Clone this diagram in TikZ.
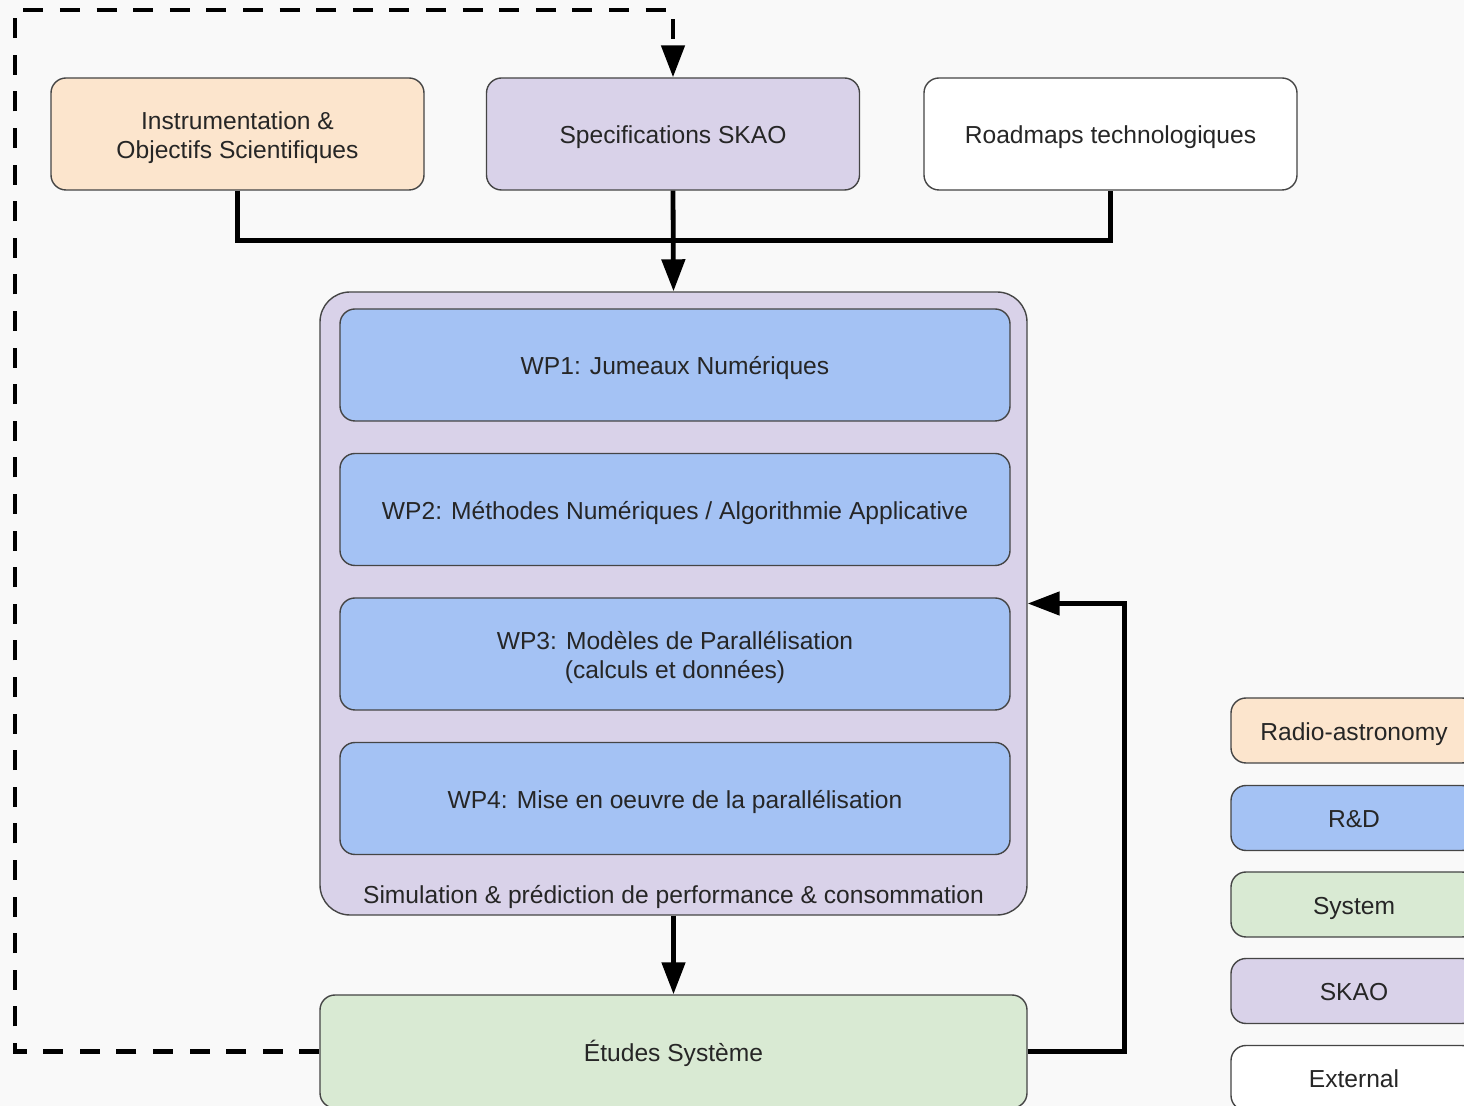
\documentclass[tikz,border=0pt]{standalone}
\usepackage{fontspec}
\setmainfont{Liberation Sans}
\usetikzlibrary{arrows.meta,positioning}
\definecolor{radiofill}{HTML}{FCE5CD}
\definecolor{skaofill}{HTML}{D9D2E9}
\definecolor{rdfill}{HTML}{A4C2F4}
\definecolor{sysfill}{HTML}{D9EAD3}
\definecolor{pagebg}{HTML}{F9F9F9}
\definecolor{edgegray}{HTML}{454545}

\begin{document}
\begin{tikzpicture}[x=0.5pt, y=-0.5pt,
	box/.style={draw=edgegray, line width=0.7pt, rounded corners=7.5pt, inner sep=0pt, align=center, text=black!85, text height=10pt, text depth=0pt, font=\fontsize{12.3}{14.6}\selectfont},
	twoline/.style={text height=25pt},
	topbox/.style={box, minimum width=186.5pt, minimum height=56pt},
	wpbox/.style={box, fill=rdfill, minimum width=335pt, minimum height=56pt},
	keybox/.style={box, minimum width=123pt, minimum height=32.5pt},
	link/.style={line width=2.4pt, -{Triangle[length=16pt, width=11.5pt]}},
	plain/.style={line width=2.4pt},
	dashlink/.style={line width=2.4pt, dash pattern=on 10pt off 8.3pt, -{Triangle[length=16pt, width=11.5pt]}}]
			%%%%% START %%%%%
			
			\fill[pagebg] (0, 0) rectangle (1464, 1106);
			\useasboundingbox (0, 0) rectangle (1464, 1106);
			
			\node[topbox, twoline, fill=radiofill] (instr) at (237.5, 134) {Instrumentation \&\\Objectifs Scientifiques};
			\node[topbox, fill=skaofill] (specs) at (673, 134) {Specifications SKAO};
			\node[topbox, fill=white] (roadmaps) at (1110.5, 134) {Roadmaps technologiques};
			
			\node[box, fill=skaofill, rounded corners=15pt, minimum width=353.5pt, minimum height=311.5pt] (sim) at (673.5, 603.5) {};
			\node[wpbox] (wp1) at (675, 365) {WP1: Jumeaux Numériques};
			\node[wpbox] (wp2) at (675, 509.5) {WP2: Méthodes Numériques / Algorithmie Applicative};
			\node[wpbox, twoline] (wp3) at (675, 654) {WP3: Modèles de Parallélisation\\(calculs et données)};
			\node[wpbox] (wp4) at (675, 798.5) {WP4: Mise en oeuvre de la parallélisation};
			\node[text=black!85, font=\fontsize{12.3}{14.6}\selectfont] (simlabel) at (673.5, 897) {Simulation \& prédiction de performance \& consommation};
			
			\node[box, fill=sysfill, minimum width=353.5pt, minimum height=56.5pt] (etudes) at (673.5, 1051.5) {Études Système};
			
			\node[keybox, fill=radiofill] (keyradio) at (1354, 730.5) {Radio-astronomy};
			\node[keybox, fill=rdfill] (keyrd) at (1354, 818) {R\&D};
			\node[keybox, fill=sysfill] (keysys) at (1354, 904.5) {System};
			\node[keybox, fill=skaofill] (keyskao) at (1354, 991) {SKAO};
			\node[keybox, fill=white] (keyext) at (1354, 1078) {External};
			
			\draw[plain] (instr.south) -- ++(0, 50) -| (roadmaps.south);
			\draw[link] (specs.south) -- (sim.north);
			\draw[link] (sim.south) -- (etudes.north);
			\draw[link] (etudes.east) -- ++(97, 0) |- (sim.east);
			
			\coordinate (loopcorner) at (15, 10);
			\draw[dashlink] (etudes.west) -| (loopcorner) -| (specs.north);
			
			%%%%% END %%%%%
\end{tikzpicture}
\end{document}
